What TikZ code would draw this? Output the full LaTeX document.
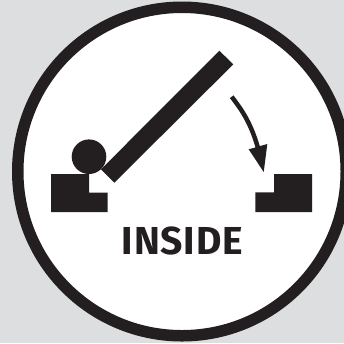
\documentclass[tikz,border=0pt]{standalone}
\usepackage{fontspec}
\setmainfont{Fira Sans}
\usepackage{tikz}
\definecolor{inkblack}{HTML}{231F20}
\definecolor{panelgrey}{HTML}{DCDEE0}
\tikzset{solidpart/.style={fill=inkblack,draw=none}}

\begin{document}
\begin{tikzpicture}[x=0.02cm,y=-0.02cm]
\useasboundingbox (0,0) rectangle (344,343);
\fill[panelgrey] (0,0) rectangle (344,343);
\draw[inkblack,fill=white,line width=0.23cm] (182,171.5) circle (164.25);
% ball and left step
\fill[solidpart] (89,156.7) circle (17.3);
\fill[solidpart] (51,174) -- (89,174) -- (89,192.7) -- (107.7,192.7) -- (107.7,212) -- (51,212) -- cycle;
% raised bar
\fill[solidpart] (101,169.3) -- (114.3,182.7) -- (233.3,64.3) -- (219.3,50.7) -- cycle;
% right step
\fill[solidpart] (274,174) -- (312,174) -- (312,212) -- (255.3,212) -- (255.3,192.3) -- (274,192.3) -- cycle;
% arrow
\coordinate (arrowtail) at (231.7,96.7);
\coordinate (arrowtip) at (263.7,172);
\draw[inkblack,line width=0.09cm] (arrowtail) .. controls (240,108) and (250,120) .. (258,148);
\fill[solidpart] (248.7,149.3) -- (267.3,144) -- (arrowtip) -- cycle;
\node[text=inkblack,font=\bfseries\fontsize{22.2}{24}\selectfont\addfontfeature{LetterSpace=2.2},inner sep=0pt] (insidelabel) at (182.4,241.3) {INSIDE};
\end{tikzpicture}
\end{document}
